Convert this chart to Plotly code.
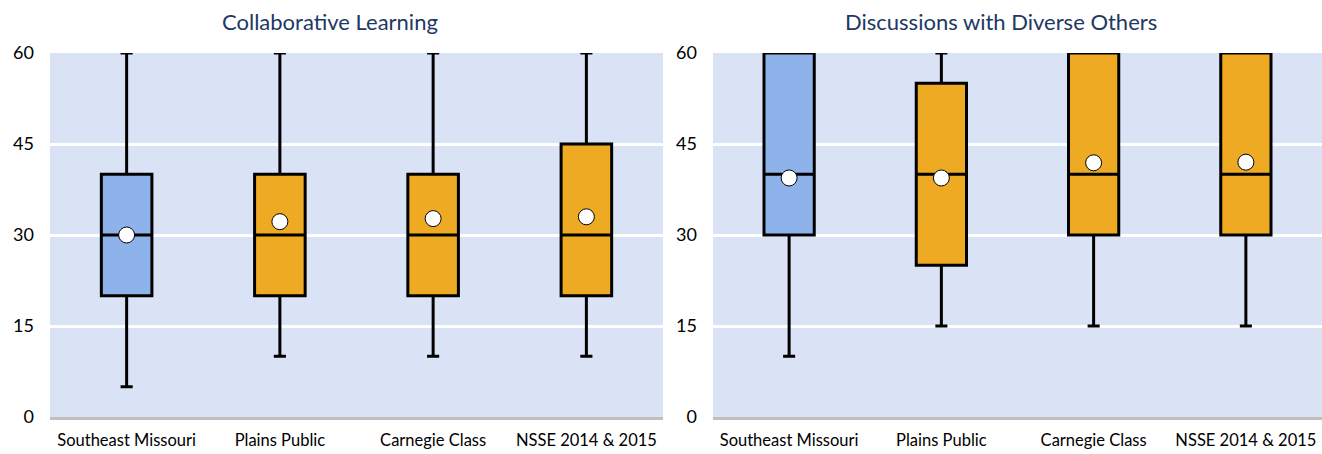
import plotly.graph_objects as go
from plotly.subplots import make_subplots

categories = ["Southeast Missouri", "Plains Public", "Carnegie Class", "NSSE 2014 & 2015"]
titles = ["Collaborative Learning", "Discussions with Diverse Others"]

# Collaborative Learning
cl_low = [5, 10, 10, 10]
cl_q1 = [20, 20, 20, 20]
cl_med = [30, 30, 30, 30]
cl_q3 = [40, 40, 40, 45]
cl_high = [60, 60, 60, 60]
cl_mean = [30.0, 32.2, 32.7, 33.0]

# Discussions with Diverse Others
dd_low = [10, 15, 15, 15]
dd_q1 = [30, 25, 30, 30]
dd_med = [40, 40, 40, 40]
dd_q3 = [60, 55, 60, 60]
dd_high = [60, 60, 60, 60]
dd_mean = [39.4, 39.4, 41.9, 42.0]

y_ticks = [0, 15, 30, 45, 60]

BLUE = "#8EB2EA"
ORANGE = "#EEAA22"
BG = "#DAE3F5"
FONT = "Lato"

fig = make_subplots(rows=1, cols=2)

panels = [
    (cl_low, cl_q1, cl_med, cl_q3, cl_high, cl_mean),
    (dd_low, dd_q1, dd_med, dd_q3, dd_high, dd_mean),
]

for ci, (lo, q1, md, q3, hi, mn) in enumerate(panels, start=1):
    groups = [([0], BLUE), ([1, 2, 3], ORANGE)]
    for idx, color in groups:
        fig.add_trace(go.Box(
            x=[categories[i] for i in idx],
            lowerfence=[lo[i] for i in idx],
            q1=[q1[i] for i in idx],
            median=[md[i] for i in idx],
            q3=[q3[i] for i in idx],
            upperfence=[hi[i] for i in idx],
            fillcolor=color,
            line=dict(color="black", width=3),
            width=0.33,
            whiskerwidth=0.24,
            boxpoints=False,
            hoverinfo="skip",
            showlegend=False,
        ), row=1, col=ci)
    fig.add_trace(go.Scatter(
        x=categories, y=mn, mode="markers",
        marker=dict(size=16, color="white", line=dict(color="black", width=1)),
        showlegend=False, hoverinfo="skip", cliponaxis=False,
    ), row=1, col=ci)

W, H = 1322, 454
ydom = [1 - 417 / H, 1 - 53 / H]
fig.update_layout(
    width=W, height=H,
    margin=dict(l=0, r=0, t=0, b=0, autoexpand=False),
    paper_bgcolor="white",
    plot_bgcolor=BG,
    boxmode="overlay",
    font=dict(family=FONT, size=15, color="black"),
    xaxis=dict(domain=[50 / W, 663 / W]),
    xaxis2=dict(domain=[713 / W, 1.0]),
    yaxis=dict(domain=ydom),
    yaxis2=dict(domain=ydom),
)
for ax in ["xaxis", "xaxis2"]:
    fig.layout[ax].update(
        type="category", range=[-0.5, 3.5], showgrid=False, showline=True,
        linecolor="#BFBFBF", linewidth=3, ticks="",
        tickfont=dict(size=16.5, family=FONT), fixedrange=True,
        automargin=False, ticklabelstandoff=6,
    )
for ax in ["yaxis", "yaxis2"]:
    fig.layout[ax].update(
        range=[0, 60], tickvals=y_ticks, showgrid=True, gridcolor="white",
        gridwidth=3, zeroline=False, showline=False, ticks="",
        tickfont=dict(size=18, family=FONT), ticklabelstandoff=15, fixedrange=True,
        automargin=False,
    )

centers = [330 / W, 1001 / W]
for t, cx in zip(titles, centers):
    fig.add_annotation(text=t, x=cx, y=1 - 21 / H, xref="paper", yref="paper",
                       xanchor="center", yanchor="middle",
                       showarrow=False, font=dict(size=22, color="#203864", family=FONT))

fig.write_html("out.html", config={"displayModeBar": False},
               post_script="document.body.style.margin='0';")
